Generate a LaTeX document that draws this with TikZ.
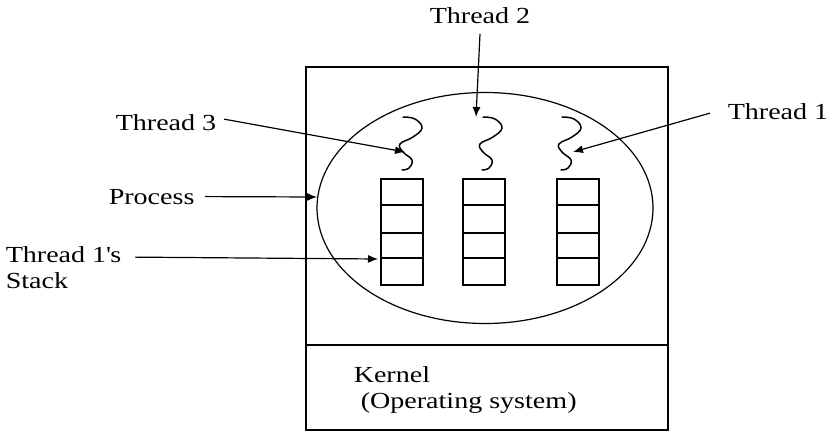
\documentclass[tikz,border=0pt]{standalone}
\usepackage{fontspec}
\setmainfont{Liberation Serif}[FakeStretch=1.22]
\usetikzlibrary{arrows.meta,calc,shapes.geometric}
\begin{document}
\begin{tikzpicture}[x=1pt,y=-1pt,line width=1.5pt,
  lbl/.style={inner sep=0pt,anchor=base west,font=\fontsize{23}{26}\selectfont},
  arr/.style={line width=1.2pt,-{Latex[length=10pt,width=8pt]}},
  stackbox/.style={draw,minimum width=42pt,minimum height=106pt,inner sep=0pt},
  squig/.style={line width=1.5pt,line cap=round}]
\useasboundingbox (0,0) rectangle (837,431);
% outer box
\node[draw,minimum width=362pt,minimum height=363pt,inner sep=0pt,anchor=north west] (outer) at (305,66) {};
\draw (305,345) -- (667,345);
% process ellipse
\node[draw,ellipse,minimum width=336pt,minimum height=231pt,inner sep=0pt,line width=1.2pt] (proc) at (485,208) {};
% stacks
\foreach \n/\x in {1/402,2/484,3/578}{
  \node[stackbox] (s\n) at (\x,232) {};
  \foreach \yy in {205,233,258}{\draw (\x-21,\yy) -- (\x+21,\yy);}
}
% squiggles
\foreach \n/\dx in {1/159,2/80,3/0}{
  \draw[squig] plot[smooth,tension=0.7] coordinates {(403+\dx,117) (415+\dx,119) (422+\dx,128) (413+\dx,137) (400+\dx,144) (403+\dx,152) (412+\dx,160) (409+\dx,168) (402+\dx,170)};
}
\coordinate (q3) at (405,152);
\coordinate (q2) at (476,117);
\coordinate (q1) at (573,152);
\coordinate (pe) at (317,197);
\coordinate (st) at (378,259);
% labels
\node[lbl] (t3) at (115,130) {Thread 3};
\node[lbl] (t2) at (429,23) {Thread 2};
\node[lbl] (t1) at (727,119) {Thread 1};
\node[lbl] (pr) at (108,204) {Process};
\node[lbl] (ts) at (5,262) {Thread 1\textquotesingle s};
\node[lbl] at (5,288) {Stack};
\node[lbl] (k1) at (353,382) {Kernel};
\node[lbl] (k2) at (360,408) {(Operating system)};
% arrows
\draw[arr] (t3.east) ++(7,-3) -- (q3);
\draw[arr] (t2.south) ++(0,10) -- (q2);
\draw[arr] (t1.west) ++(-17,2) -- (q1);
\draw[arr] (pr.east) ++(10,0) -- (pe);
\draw[arr] (ts.east) ++(13,3) -- (st);
\end{tikzpicture}
\end{document}
